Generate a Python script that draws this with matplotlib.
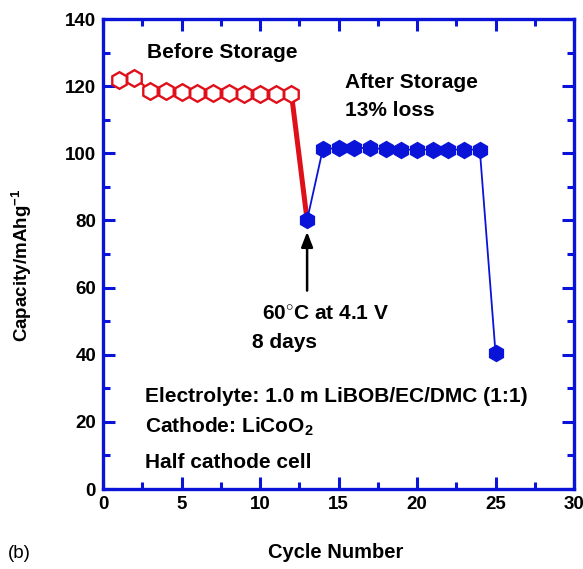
import matplotlib
matplotlib.use("Agg")
import matplotlib.pyplot as plt
from matplotlib.ticker import MultipleLocator

plt.rcParams['font.family'] = ['Liberation Sans', 'DejaVu Sans']
plt.rcParams['font.weight'] = 'bold'
plt.rcParams['mathtext.fontset'] = 'custom'
plt.rcParams['mathtext.rm'] = 'Liberation Sans:bold'
plt.rcParams['mathtext.bf'] = 'Liberation Sans:bold'
plt.rcParams['mathtext.it'] = 'Liberation Sans:bold'

# Discharge capacity per cycle
before_cycles = [1, 2, 3, 4, 5, 6, 7, 8, 9, 10, 11, 12]
before_capacity = [121.9, 122.5, 118.7, 118.5, 118.2, 118.1, 118.1, 118.1, 117.8, 117.8, 117.8, 117.8]
after_cycles = [13, 14, 15, 16, 17, 18, 19, 20, 21, 22, 23, 24, 25]
after_capacity = [80.1, 101.2, 101.6, 101.6, 101.6, 101.2, 101.1, 101.1, 101.1, 101.1, 101.1, 101.1, 40.6]

xticks = [0, 5, 10, 15, 20, 25, 30]
yticks = [0, 20, 40, 60, 80, 100, 120, 140]

W, H = 583, 569
fig = plt.figure(figsize=(W / 100, H / 100), dpi=100)
ax = fig.add_axes([103 / W, 1 - 489 / H, (574 - 103) / W, (489 - 19) / H])

red = '#e0101a'
blue = '#0a14d8'

# thin connector through the pre-storage cycles
ax.plot(before_cycles, before_capacity, color=red, lw=1.6, marker='h', ms=12,
        mfc='white', mec=red, mew=1.7, zorder=3)
# storage step (heavy red segment)
ax.plot([before_cycles[-1], after_cycles[0]], [before_capacity[-1], after_capacity[0]],
        color=red, lw=3.6, solid_capstyle='butt', zorder=2)
# post-storage cycles
ax.plot(after_cycles, after_capacity, color=blue, lw=1.3, marker='h', ms=11.5,
        mfc=blue, mec=blue, mew=1, zorder=4)

ax.set_xlim(0, 30)
ax.set_ylim(0, 140)
ax.set_xticks(xticks)
ax.set_yticks(yticks)
ax.xaxis.set_minor_locator(MultipleLocator(2.5))
ax.yaxis.set_minor_locator(MultipleLocator(10))
ax.tick_params(which='both', direction='in', top=True, right=True, color=blue,
               width=2.2, labelsize=13.5, pad=5)
ax.tick_params(which='major', length=8.5)
ax.tick_params(which='minor', length=5)
for s in ax.spines.values():
    s.set_color(blue)
    s.set_linewidth(2.4)
for lbl in ax.get_xticklabels() + ax.get_yticklabels():
    lbl.set_fontweight('bold')

fs = 15
def px(x, y):
    return x / W, 1 - y / H

fig.text(*px(147, 53), 'Before Storage', fontsize=fs, fontweight='bold', va='center')
fig.text(*px(345, 82), 'After Storage', fontsize=fs, fontweight='bold', va='center')
fig.text(*px(345, 111), '13% loss', fontsize=fs, fontweight='bold', va='center')
fig.text(*px(262, 314), r'60$^{\circ}$C at 4.1 V', fontsize=fs, fontweight='bold', va='center')
fig.text(*px(252, 343), '8 days', fontsize=fs, fontweight='bold', va='center')
fig.text(*px(145, 396), 'Electrolyte: 1.0 m LiBOB/EC/DMC (1:1)', fontsize=fs,
         fontweight='bold', va='center')
fig.text(*px(145, 427), r'Cathode: LiCoO$_2$', fontsize=fs, fontweight='bold', va='center')
fig.text(*px(145, 463), 'Half cathode cell', fontsize=fs, fontweight='bold', va='center')

ax.annotate('', xy=(after_cycles[0], after_capacity[0] - 3.5),
            xytext=(after_cycles[0], after_capacity[0] - 21),
            arrowprops=dict(arrowstyle='-|>,head_length=0.9,head_width=0.35',
                            color='black', lw=1.8, shrinkA=0, shrinkB=0))

fig.text(*px(336, 553), 'Cycle Number', fontsize=14.5, fontweight='bold',
         ha='center', va='center')
fig.text(*px(8, 553), '(b)', fontsize=13.5, fontweight='normal', va='center')
fig.text(*px(22, 265), r'Capacity/mAhg$^{-1}$', fontsize=13.5, fontweight='bold',
         rotation=90, ha='center', va='center')

fig.savefig('out.png', dpi=100)
